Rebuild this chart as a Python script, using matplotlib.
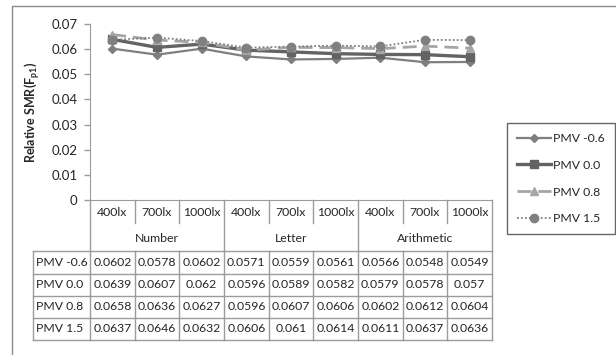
import matplotlib

matplotlib.use("Agg")
import matplotlib.pyplot as plt  # noqa: E402
from matplotlib.lines import Line2D  # noqa: E402
from matplotlib.patches import Rectangle  # noqa: E402

plt.rcParams["font.family"] = ["Lato", "DejaVu Sans"]

# --- data -------------------------------------------------------------------
LUX = ["400lx", "700lx", "1000lx"] * 3
TASKS = ["Number", "Letter", "Arithmetic"]
SERIES = ["PMV -0.6", "PMV 0.0", "PMV 0.8", "PMV 1.5"]
pmv_m06 = [0.0602, 0.0578, 0.0602, 0.0571, 0.0559, 0.0561, 0.0566, 0.0548, 0.0549]
pmv_00 = [0.0639, 0.0607, 0.062, 0.0596, 0.0589, 0.0582, 0.0579, 0.0578, 0.057]
pmv_08 = [0.0658, 0.0636, 0.0627, 0.0596, 0.0607, 0.0606, 0.0602, 0.0612, 0.0604]
pmv_15 = [0.0637, 0.0646, 0.0632, 0.0606, 0.061, 0.0614, 0.0611, 0.0637, 0.0636]
VALUES = [pmv_m06, pmv_00, pmv_08, pmv_15]
# table cell text as printed (Excel drops trailing zeros)
CELL_TXT = [[f"{v:.4f}".rstrip("0") for v in row] for row in VALUES]

STYLES = [
    dict(color="#7f7f7f", lw=1.6, ls="-", marker="D", ms=4.5),
    dict(color="#636363", lw=2.4, ls="-", marker="s", ms=5.5),
    dict(color="#a6a6a6", lw=2.0, ls=(0, (5, 2.5)), marker="^", ms=6),
    dict(color="#808080", lw=1.3, ls=(0, (1, 1.2)), marker="o", ms=6),
]

W, H = 616, 355
TXT = "#262626"
GRID = "#9c9c9c"
FS = 8.8


def fx(px):
    return px / W


def fy(py):
    return 1 - py / H


fig = plt.figure(figsize=(W / 100, H / 100), dpi=100)

# outer chart frame (cut at right/bottom like the screenshot)
fig.patches.append(Rectangle((fx(12), fy(360)), fx(610), fy(6) - fy(360),
                             transform=fig.transFigure, fill=False,
                             ec="#8a8a8a", lw=1.0))

x0, x1, ytop, ybot = 90, 492, 24, 200
ax = fig.add_axes([fx(x0), fy(ybot), fx(x1 - x0), fy(ytop) - fy(ybot)])
xs = list(range(len(LUX)))
for name, vals, st in zip(SERIES, VALUES, STYLES):
    ax.plot(xs, vals, color=st["color"], lw=st["lw"], ls=st["ls"],
            marker=st["marker"], ms=st["ms"], mfc=st["color"], mec=st["color"],
            label=name, solid_joinstyle="round")
ax.set_xlim(-0.5, len(LUX) - 0.5)
ax.set_ylim(0, 0.07)
ax.set_yticks([i / 100 for i in range(8)])
ax.set_yticklabels(["0"] + [f"0.0{i}" for i in range(1, 8)])
ax.set_xticks([])
ax.tick_params(axis="y", colors=GRID, labelcolor=TXT, labelsize=9.5,
               length=4, width=1, pad=5)
for s in ("top", "right"):
    ax.spines[s].set_visible(False)
for s in ("left", "bottom"):
    ax.spines[s].set_color(GRID)
ax.set_ylabel("Relative SMR(F$_\\mathregular{p1}$)", fontsize=9,
              fontweight="bold", color=TXT)
ax.yaxis.set_label_coords(-0.12, 0.5)

# --- data table below the axis ---------------------------------------------
row_h = [26, 25, 23, 22, 22, 22]
hdr_left = 33
tab = fig.add_axes([fx(x0), fy(ybot + sum(row_h)), fx(x1 - x0),
                    fy(ybot) - fy(ybot + sum(row_h))])
tab.set_xlim(-0.5, len(LUX) - 0.5)
tab.set_ylim(sum(row_h), 0)
tab.axis("off")
colw = (x1 - x0) / len(LUX)
left = -0.5 - (x0 - hdr_left) / colw
edges = [0]
for h in row_h:
    edges.append(edges[-1] + h)


def hline(y, xa, xb):
    tab.add_line(Line2D([xa, xb], [y, y], color=GRID, lw=1, clip_on=False))


def vline(x, ya, yb):
    tab.add_line(Line2D([x, x], [ya, yb], color=GRID, lw=1, clip_on=False))


# lux row
for i, lab in enumerate(LUX):
    tab.text(i, (edges[0] + edges[1]) / 2, lab, ha="center", va="center",
             fontsize=FS, color=TXT)
    if i % 3:
        vline(i - 0.5, edges[0], edges[1] - 3)
# task row
for g, lab in enumerate(TASKS):
    tab.text(3 * g + 1, (edges[1] + edges[2]) / 2, lab, ha="center",
             va="center", fontsize=FS, color=TXT)
for g in range(4):
    vline(3 * g - 0.5, edges[0], edges[-1])
hline(edges[2], left, len(LUX) - 0.5)
# value rows
for r, (name, row) in enumerate(zip(SERIES, CELL_TXT)):
    yc = (edges[r + 2] + edges[r + 3]) / 2
    tab.text(left + 0.07, yc, name, ha="left", va="center", fontsize=FS,
             color=TXT)
    for i, t in enumerate(row):
        tab.text(i, yc, t, ha="center", va="center", fontsize=FS, color=TXT)
        if i % 3:
            vline(i - 0.5, edges[r + 2], edges[r + 3])
    hline(edges[r + 3], left, len(LUX) - 0.5)
vline(left, edges[2], edges[-1])

# --- legend ----------------------------------------------------------------
leg = ax.legend(loc="upper left", bbox_to_anchor=(fx(507), fy(123)),
                bbox_transform=fig.transFigure, fontsize=8.8,
                frameon=True, fancybox=False, handlelength=2.8,
                handletextpad=0.2, labelspacing=1.3, borderpad=0.8,
                borderaxespad=0)
leg.get_frame().set_edgecolor("#404040")
leg.get_frame().set_linewidth(1.0)
for t in leg.get_texts():
    t.set_color(TXT)

fig.savefig("out.png", dpi=100)
